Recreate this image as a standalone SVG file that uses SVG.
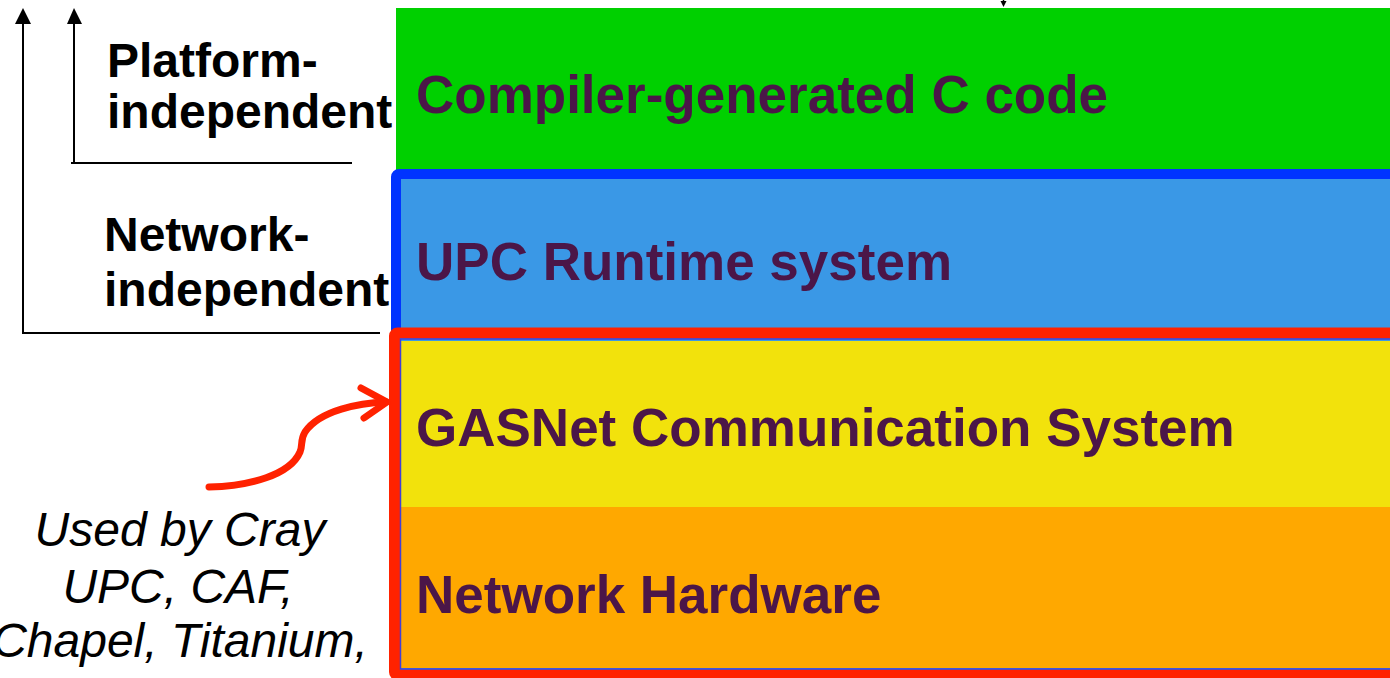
<svg xmlns="http://www.w3.org/2000/svg" width="1390" height="678" viewBox="0 0 1390 678">
<style>
.lbl{font-family:"Liberation Sans",Arial,sans-serif;font-weight:bold;font-size:48px;fill:#000}
.layer{font-family:"Liberation Sans",Arial,sans-serif;font-weight:bold;font-size:53px;fill:#4B1648}
.note{font-family:"Liberation Sans",Arial,sans-serif;font-style:italic;font-size:48px;fill:#000}
.axis{stroke:#000;stroke-width:2;fill:none}
</style>
<defs>
<marker id="ah" markerWidth="16" markerHeight="16" refX="8" refY="0" viewBox="0 0 16 16" markerUnits="userSpaceOnUse" orient="auto">
</marker>
</defs>
<rect width="1390" height="678" fill="#fff"/>
<g id="compiler-layer">
<rect x="396" y="8" width="1000" height="163" fill="#00D000"/>
<text class="layer" x="416" y="113">Compiler-generated C code</text>
</g>
<g id="runtime-layer">
<rect x="396" y="174" width="1010" height="170" rx="3" fill="#3A98E6" stroke="#0033FF" stroke-width="10"/>
<text class="layer" x="416" y="280">UPC Runtime system</text>
</g>
<g id="gasnet-layer">
<rect x="394.5" y="333" width="1010" height="342" rx="3" fill="#3A98E6" stroke="#FF2200" stroke-width="11"/>
<rect x="401" y="341" width="1000" height="166" fill="#F2E20C"/>
<text class="layer" x="416" y="446">GASNet Communication System</text>
</g>
<g id="hardware-layer">
<rect x="401" y="507" width="1000" height="161" fill="#FFA800"/>
<rect x="400.5" y="339" width="1010" height="330" fill="none" stroke="#4040D8" stroke-width="1.5"/>
<text class="layer" x="416" y="613">Network Hardware</text>
</g>
<g id="platform-label">
<text class="lbl" x="107" y="77">Platform-</text>
<text class="lbl" x="107" y="128">independent</text>
</g>
<g id="network-label">
<text class="lbl" x="104" y="251">Network-</text>
<text class="lbl" x="104" y="306">independent</text>
</g>
<g id="note">
<text class="note" text-anchor="middle" x="180" y="546">Used by Cray</text>
<text class="note" text-anchor="middle" x="178" y="603">UPC, CAF,</text>
<text class="note" text-anchor="middle" x="180" y="657">Chapel, Titanium,</text>
</g>
<g id="connectors">
<path class="axis" d="M23,333 V22 M22,333 H380"/>
<polygon points="23,8 15,24 31,24" fill="#000"/>
<path class="axis" d="M74,163 V22 M71,163 H352"/>
<polygon points="74,8 67,24 82,24" fill="#000"/>
<path d="M1003.5,-5 V2" stroke="#000" stroke-width="1.5"/>
<polygon points="1000.5,1 1006.5,1 1003.5,7" fill="#000"/>
<path d="M209,487 C250,486 290,475 300,452 C303,445 300,440 305,432 C320,410 360,403 386,402" fill="none" stroke="#FF2200" stroke-width="7" stroke-linecap="round"/>
<path d="M361,388 L387,402 L364,418" fill="none" stroke="#FF2200" stroke-width="7" stroke-linecap="round" stroke-linejoin="round"/>
</g>
</svg>
